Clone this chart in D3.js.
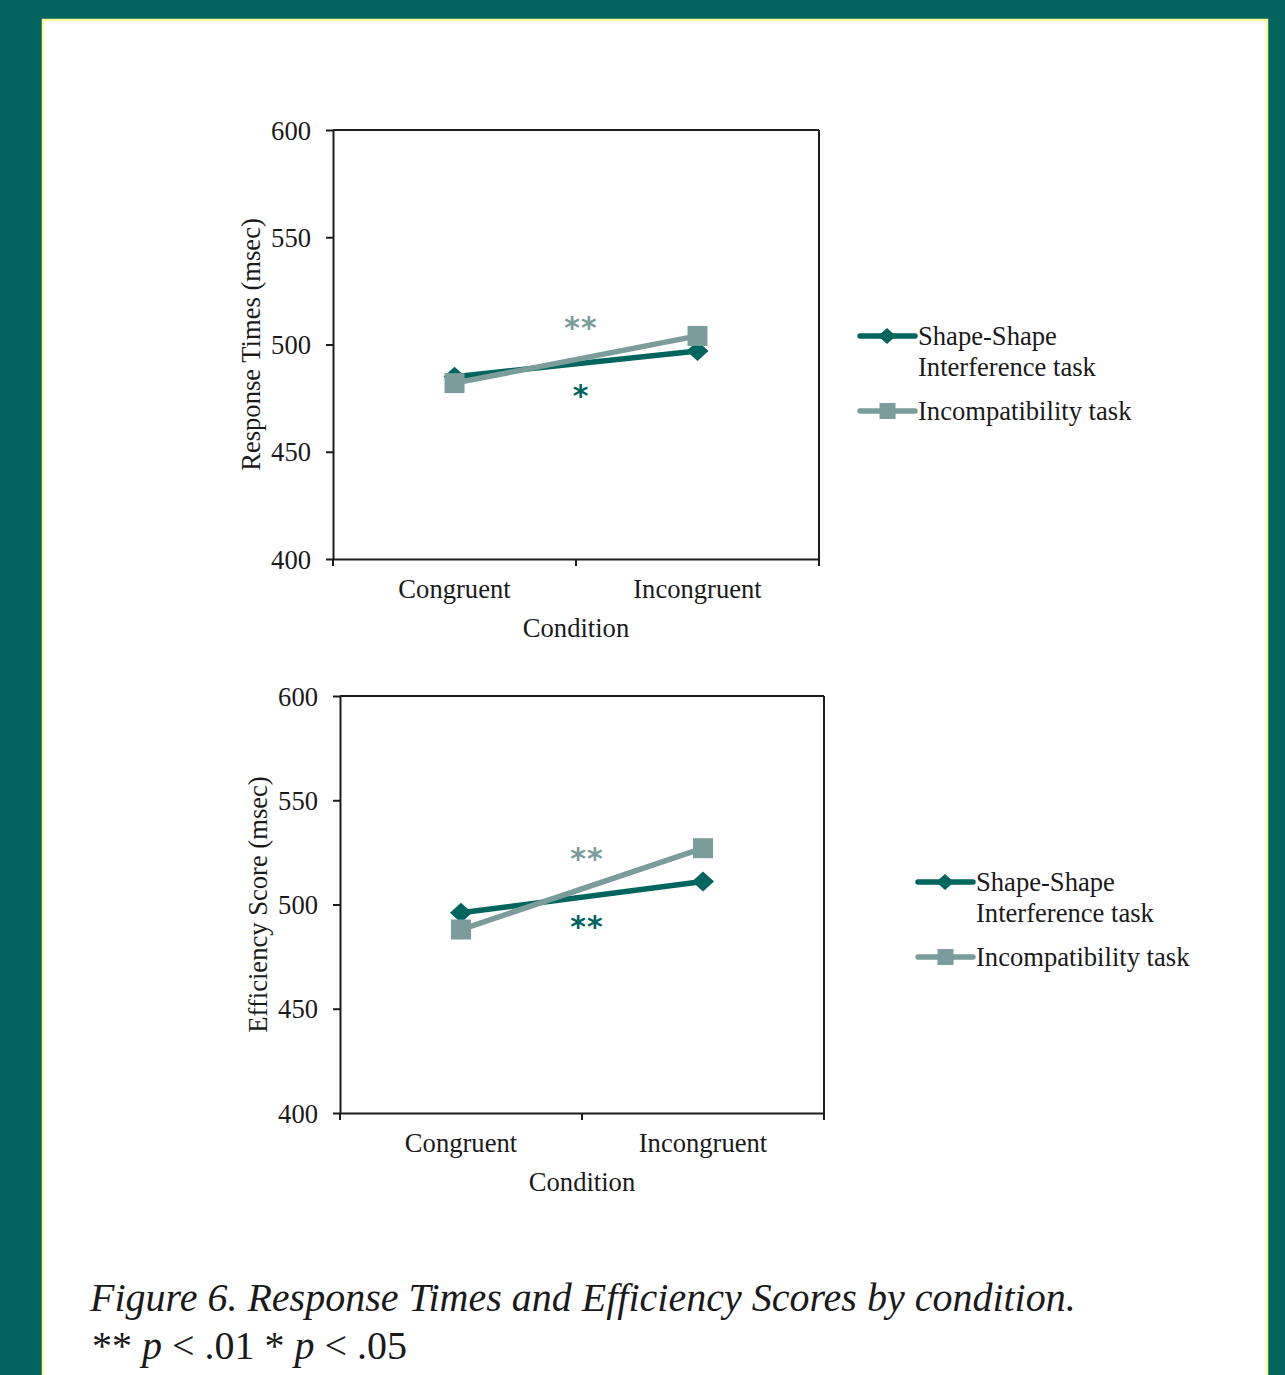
<!DOCTYPE html>
<html>
<head>
<meta charset="utf-8">
<script src="https://cdn.jsdelivr.net/npm/d3@7"></script>
<style>
  html, body { margin: 0; padding: 0; background: #02635f; }
  svg { display: block; }
  text { font-family: "Liberation Serif", "Times New Roman", serif; fill: #1a1a1a; }
</style>
</head>
<body>
<svg id="fig" width="1285" height="1375"></svg>
<script>
// Conditions on the x axis
const conditions = ["Congruent", "Incongruent"];
const yTicks = [400, 450, 500, 550, 600];

// Response times (msec)
const rtShapeShape = [485, 497];
const rtIncompat = [482, 504];
// Efficiency scores (msec)
const esShapeShape = [496, 511];
const esIncompat = [488, 527];

// Significance markers: label, series, y value
const rtStars = [
  { label: "**", series: "incompat", value: 509 },
  { label: "*", series: "shape", value: 477.5 }
];
const esStars = [
  { label: "**", series: "incompat", value: 523.5 },
  { label: "**", series: "shape", value: 490.5 }
];

const seriesNames = { shape: ["Shape-Shape", "Interference task"], incompat: ["Incompatibility task"] };

const COLORS = { shape: "#00645f", incompat: "#7a9c9a" };
const AXIS = "#1c1c1c";
const FS = "26.6px";

const svg = d3.select("#fig");

// Page panel
svg.append("rect").attr("x", 0).attr("y", 0).attr("width", 1285).attr("height", 1375).attr("fill", "#02635f");
svg.append("rect").attr("x", 43).attr("y", 20).attr("width", 1224).attr("height", 1370)
  .attr("fill", "#ffffff").attr("stroke", "#fbfb9a").attr("stroke-width", 2.5);

function diamondPath(hw, hh) {
  return `M0,${-hh}L${hw},0L0,${hh}L${-hw},0Z`;
}

function drawChart(opts) {
  const { left, top, width, height, yLabel, shape, incompat, stars, legendX, legendY } = opts;
  const g = svg.append("g").attr("transform", `translate(${left},${top})`);

  const x = d3.scaleBand().domain(conditions).range([0, width]).paddingInner(0).paddingOuter(0);
  const y = d3.scaleLinear().domain([400, 600]).range([height, 0]);
  const cx = c => x(c) + x.bandwidth() / 2;

  // Frame: top and right edges
  g.append("line").attr("x1", 0).attr("x2", width).attr("y1", 0).attr("y2", 0)
    .attr("stroke", AXIS).attr("stroke-width", 2);
  g.append("line").attr("x1", width).attr("x2", width).attr("y1", 0).attr("y2", height)
    .attr("stroke", AXIS).attr("stroke-width", 2);

  // Y axis
  const yAxis = g.append("g").call(
    d3.axisLeft(y).tickValues(yTicks).tickSize(7).tickPadding(15).tickSizeOuter(0)
  );
  yAxis.select(".domain").attr("stroke", AXIS).attr("stroke-width", 2);
  yAxis.selectAll(".tick line").attr("stroke", AXIS).attr("stroke-width", 2);
  yAxis.selectAll(".tick text").style("font-family", "'Liberation Serif', serif")
    .style("font-size", FS).attr("fill", "#1a1a1a").attr("dy", "0.34em");

  // X axis: labels centred on bands, ticks at band edges
  const xAxis = g.append("g").attr("transform", `translate(0,${height})`).call(
    d3.axisBottom(x).tickSize(0).tickPadding(20).tickSizeOuter(0)
  );
  xAxis.select(".domain").attr("stroke", AXIS).attr("stroke-width", 2);
  xAxis.selectAll(".tick text").style("font-family", "'Liberation Serif', serif")
    .style("font-size", FS).attr("fill", "#1a1a1a");
  const edges = [0, ...conditions.map(c => x(c) + x.bandwidth())];
  g.selectAll("line.xedge").data(edges).enter().append("line").attr("class", "xedge")
    .attr("x1", d => d).attr("x2", d => d).attr("y1", height).attr("y2", height + 7)
    .attr("stroke", AXIS).attr("stroke-width", 2);

  // Axis titles
  g.append("text").attr("x", width / 2).attr("y", height + 78).attr("text-anchor", "middle")
    .style("font-size", FS).text("Condition");
  g.append("text").attr("transform", `translate(${-73},${height / 2}) rotate(-90)`)
    .attr("text-anchor", "middle").style("font-size", FS).text(yLabel);

  // Series lines
  const line = d3.line().x((d, i) => cx(conditions[i])).y(d => y(d));
  g.append("path").datum(shape).attr("d", line).attr("fill", "none")
    .attr("stroke", COLORS.shape).attr("stroke-width", 5.5);
  g.append("path").datum(incompat).attr("d", line).attr("fill", "none")
    .attr("stroke", COLORS.incompat).attr("stroke-width", 5.5);

  // Markers
  g.selectAll("path.dia").data(shape).enter().append("path").attr("class", "dia")
    .attr("transform", (d, i) => `translate(${cx(conditions[i])},${y(d)})`)
    .attr("d", diamondPath(11, 10)).attr("fill", COLORS.shape);
  g.selectAll("rect.sq").data(incompat).enter().append("rect").attr("class", "sq")
    .attr("x", (d, i) => cx(conditions[i]) - 10).attr("y", d => y(d) - 10)
    .attr("width", 20).attr("height", 20).attr("fill", COLORS.incompat);

  // Significance stars, centred between conditions
  g.selectAll("text.star").data(stars).enter().append("text").attr("class", "star")
    .attr("x", width / 2 + 5).attr("y", d => y(d.value) + 13)
    .attr("text-anchor", "middle").style("font-size", "30px").style("font-weight", "bold")
    .style("font-family", "'DejaVu Sans', sans-serif").style("letter-spacing", "1px")
    .style("fill", d => COLORS[d.series])
    .text(d => d.label);

  // Legend
  const lg = svg.append("g").attr("transform", `translate(${legendX},${legendY})`);
  const entries = [
    { key: "shape", dy: 0 },
    { key: "incompat", dy: 75 }
  ];
  entries.forEach(e => {
    const row = lg.append("g").attr("transform", `translate(0,${e.dy})`);
    row.append("line").attr("x1", 0).attr("x2", 55).attr("y1", 0).attr("y2", 0)
      .attr("stroke", COLORS[e.key]).attr("stroke-width", 5.5).attr("stroke-linecap", "round");
    if (e.key === "shape") {
      row.append("path").attr("transform", "translate(27,0)").attr("d", diamondPath(9, 8))
        .attr("fill", COLORS.shape);
    } else {
      row.append("rect").attr("x", 19.5).attr("y", -8).attr("width", 16).attr("height", 16)
        .attr("fill", COLORS.incompat);
    }
    seriesNames[e.key].forEach((t, i) => {
      row.append("text").attr("x", 58).attr("y", 9 + i * 31).style("font-size", FS).text(t);
    });
  });
}

drawChart({
  left: 333, top: 130, width: 486, height: 429,
  yLabel: "Response Times (msec)",
  shape: rtShapeShape, incompat: rtIncompat, stars: rtStars,
  legendX: 860, legendY: 336
});

drawChart({
  left: 340, top: 696, width: 484, height: 417,
  yLabel: "Efficiency Score (msec)",
  shape: esShapeShape, incompat: esIncompat, stars: esStars,
  legendX: 918, legendY: 882
});

// Caption
svg.append("text").attr("x", 90).attr("y", 1311)
  .style("font-size", "40px").style("font-style", "italic")
  .text("Figure 6. Response Times and Efficiency Scores by condition.");
const cap2 = svg.append("text").attr("x", 92).attr("y", 1359).style("font-size", "40px");
cap2.append("tspan").text("** ");
cap2.append("tspan").style("font-style", "italic").text("p");
cap2.append("tspan").text(" < .01 * ");
cap2.append("tspan").style("font-style", "italic").text("p");
cap2.append("tspan").text(" < .05");
</script>
</body>
</html>
